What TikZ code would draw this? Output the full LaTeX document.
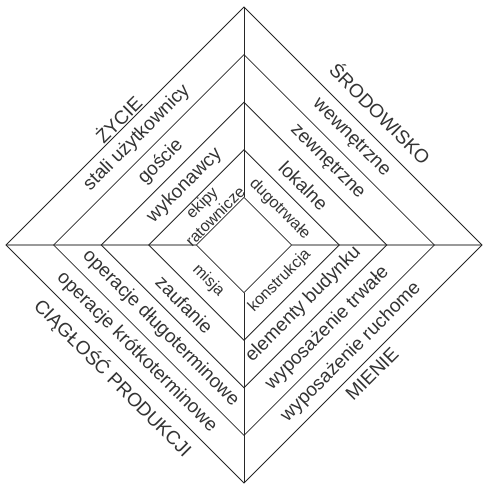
\documentclass[tikz,border=0pt]{standalone}
\usepackage{fontspec}
\setmainfont{Liberation Sans}
\begin{document}
\begin{tikzpicture}[x=1pt,y=-1pt,
      garis/.style={draw=black!85,line width=0.8pt},
      sumbu/.style={draw=black!40,line width=1.6pt},
      teks/.style={inner sep=0pt,text=black!80},
      pita/.style={teks,font=\fontsize{19}{21}\selectfont},
      dalam/.style={teks,align=center,font=\fontsize{16}{19}\selectfont},
      naik/.style={rotate=45},
      turun/.style={rotate=-45}]
    \useasboundingbox (0,0) rectangle (487,490);

    % --- Titik sudut belah ketupat terluar dan terdalam ---------------------
    \coordinate (atas) at (244,7);
    \coordinate (kanan) at (482,245);
    \coordinate (bawah) at (244,483);
    \coordinate (kiri) at (6,245);
    \coordinate (atasd) at (244,197.4);
    \coordinate (kanand) at (291.6,245);
    \coordinate (bawahd) at (244,292.6);
    \coordinate (kirid) at (196.4,245);

    % --- Sumbu pembagi: mendatar abu-abu, tegak gelap -----------------------
    \draw[sumbu] (kiri) -- (kirid);
    \draw[sumbu] (kanand) -- (kanan);
    \draw[garis] (atas) -- (atasd);
    \draw[garis] (bawahd) -- (bawah);

    % --- Lima belah ketupat bersarang --------------------------------------
    \draw[garis] (atas) -- (kanan) -- (bawah) -- (kiri) -- cycle;
    \draw[garis] (244,54.6) -- (434.4,245) -- (244,435.4) -- (53.6,245) -- cycle;
    \draw[garis] (244,102.2) -- (386.8,245) -- (244,387.8) -- (101.2,245) -- cycle;
    \draw[garis] (244,149.8) -- (339.2,245) -- (244,340.2) -- (148.8,245) -- cycle;
    \draw[garis] (atasd) -- (kanand) -- (bawahd) -- (kirid) -- cycle;

    % --- Kuadran kiri atas: ŻYCIE -------------------------------------------
    \node[pita,naik] (zycie) at (118,119) {ŻYCIE};
    \node[pita,naik] (stali) at (136.9,137.9) {stali użytkownicy};
    \node[pita,naik] (goscie) at (160.7,161.7) {goście};
    \node[pita,naik] (wykonawcy) at (184.5,185.5) {wykonawcy};
    \node[dalam,naik] (ekipy) at (208.3,209.3) {ekipy\\ratownicze};

    % --- Kuadran kanan atas: ŚRODOWISKO -------------------------------------
    \node[pita,turun] (srodowisko) at (381,113) {ŚRODOWISKO};
    \node[pita,turun] (wewnetrzne) at (351.1,137.9) {wewnętrzne};
    \node[pita,turun] (zewnetrzne) at (327.3,161.7) {zewnętrzne};
    \node[pita,turun] (lokalne) at (303.5,185.5) {lokalne};
    \node[dalam,turun] (dugotrwale) at (279.7,209.3) {dugotrwałe};

    % --- Kuadran kiri bawah: CIĄGŁOŚĆ PRODUKCJI -----------------------------
    \node[pita,turun] (ciaglosc) at (113,378) {CIĄGŁOŚĆ PRODUKCJI};
    \node[pita,turun] (krotko) at (136.9,352.1) {operacje krótkoterminowe};
    \node[pita,turun] (dlugo) at (160.7,328.3) {operacje długoterminowe};
    \node[pita,turun] (zaufanie) at (184.5,304.5) {zaufanie};
    \node[dalam,turun] (misja) at (208.3,280.7) {misja};

    % --- Kuadran kanan bawah: MIENIE ----------------------------------------
    \node[pita,naik] (mienie) at (372,374) {MIENIE};
    \node[pita,naik] (ruchome) at (351.1,352.1) {wyposażenie ruchome};
    \node[pita,naik] (trwale) at (327.3,328.3) {wyposażenie trwałe};
    \node[pita,naik] (budynku) at (303.5,304.5) {elementy budynku};
    \node[dalam,naik] (konstrukcja) at (279.7,280.7) {konstrukcja};
  \end{tikzpicture}
\end{document}
